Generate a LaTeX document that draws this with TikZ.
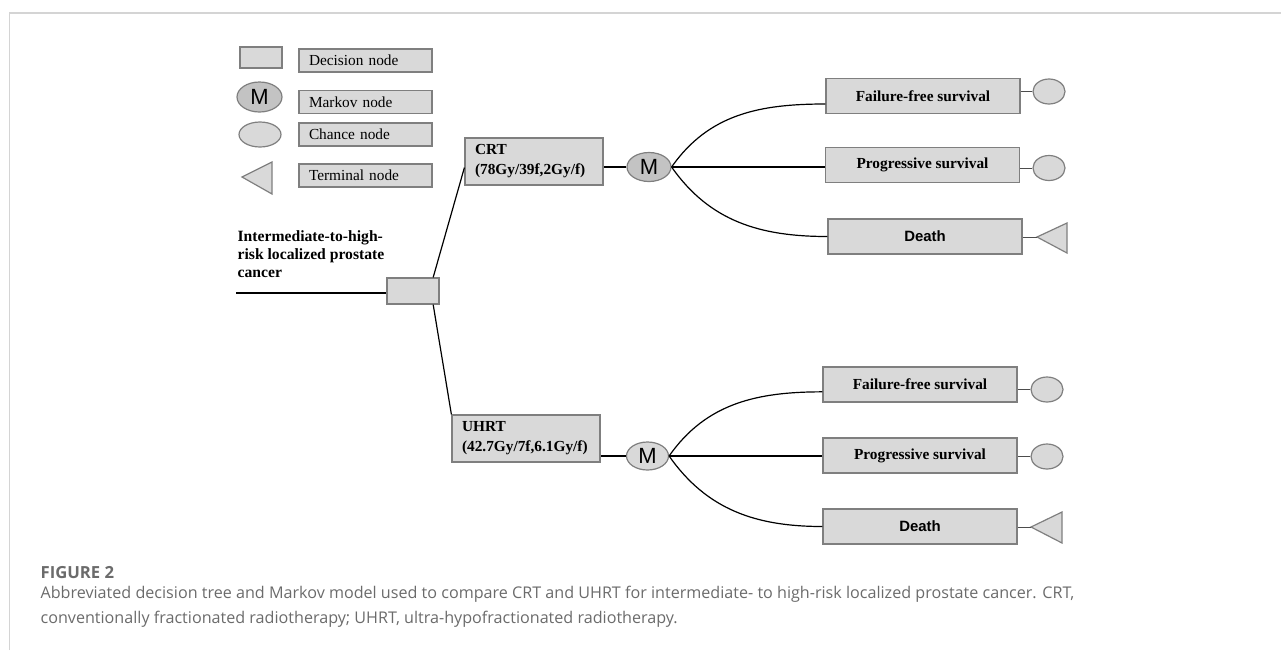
\documentclass[tikz,border=0pt]{standalone}
\usepackage{fontspec}
\setmainfont{Liberation Serif}
\newfontfamily\arialfont{Liberation Sans}
\newfontfamily\capfont{Open Sans}
\usetikzlibrary{arrows,shapes.geometric}
\definecolor{boxgray}{HTML}{D9D9D9}
\definecolor{markgray}{HTML}{C3C3C3}
\definecolor{edgegray}{HTML}{7F7F7F}
\definecolor{framegray}{HTML}{D4D4D4}
\definecolor{capgray}{HTML}{6B6B6B}
\tikzstyle{decbox}=[rectangle, draw=edgegray, fill=boxgray, line width=0.9pt, inner sep=0pt]
\tikzstyle{legbox}=[decbox, minimum width=99.75pt, minimum height=17.25pt, text width=84.75pt, inner xsep=7.5pt, align=left, font=\fontsize{11.5}{13}\selectfont]
\tikzstyle{armbox}=[decbox, minimum height=35.25pt, inner xsep=7.5pt, align=left, font=\fontsize{11.5}{15}\selectfont\bfseries]
\tikzstyle{outbox}=[decbox, minimum width=145.5pt, minimum height=26.25pt, font=\fontsize{11.5}{13}\selectfont\bfseries]
\tikzstyle{markov}=[ellipse, draw=edgegray, fill=boxgray, line width=0.9pt, inner sep=0pt, font=\arialfont\fontsize{16.5}{16.5}\selectfont]
\tikzstyle{chance}=[ellipse, draw=edgegray, fill=boxgray, line width=0.9pt, inner sep=0pt, minimum width=24pt, minimum height=18.75pt]
\tikzstyle{term}=[draw=edgegray, fill=boxgray, line width=0.9pt]
\tikzstyle{stub}=[draw=black!70, line width=0.75pt]
\newcommand{\decbox}{\node[decbox]}
\newcommand{\chance}{\node[chance]}

\begin{document}
\begin{tikzpicture}[x=0.75pt,y=-0.75pt,line width=0.9pt]
	\useasboundingbox (0,0) rectangle (1281,650);
	\draw[framegray] (9.5,650) -- (9.5,13) -- (1281,13);

	% legend
	\decbox (l1) at (261,57.5) [minimum width=31.5pt, minimum height=15.75pt] {};
	\node[markov, fill=markgray, minimum width=33.75pt, minimum height=22.5pt] (l2) at (259.5,97) {M};
	\chance (l3) at (260,134.5) [minimum width=31.5pt] {};
	\draw[term] (242,177) -- (272,162) -- (272,194) -- cycle;
	\node[legbox] (l5) at (365.5,60.5) {Decision node};
	\node[legbox] (l6) at (365.5,102) {Markov node};
	\node[legbox] (l7) at (365.5,134.5) {Chance node};
	\node[legbox] (l8) at (365.5,175.5) {Terminal node};

	% decision tree
	\coordinate (0) at (236,293);
	\decbox (1) at (413,291) [minimum width=39pt, minimum height=19.5pt] {};
	\node[anchor=west, align=left, inner sep=0pt, font=\fontsize{11.75}{13.5}\selectfont\bfseries] (lab) at (237,254) {Intermediate-to-high-\\risk localized prostate\\cancer};
	\node[armbox, minimum width=103.5pt, text width=88.5pt] (2) at (534,161.5) {CRT\\(78Gy/39f,2Gy/f)};
	\node[markov, fill=markgray, minimum width=33pt, minimum height=21.75pt] (3) at (649,167) {M};
	\node[outbox] (4) at (923,96) {Failure-free survival};
	\node[outbox] (5) at (922.5,165) {Progressive survival};
	\node[outbox, font=\arialfont\fontsize{11.2}{13}\selectfont\bfseries] (6) at (925,236.5) {Death};
	\chance (7) at (1049,91.5) {};
	\chance (8) at (1049,168) {};
	\coordinate (9) at (1037,237);
	\draw[term] (9) -- (1067,223) -- (1067,253) -- cycle;

	\node[armbox, minimum width=111pt, text width=96pt] (11) at (526,438.5) {UHRT\\(42.7Gy/7f,6.1Gy/f)};
	\node[markov, minimum width=31.5pt, minimum height=21pt] (12) at (647.5,456) {M};
	\node[outbox] (13) at (920,384.5) {Failure-free survival};
	\node[outbox] (14) at (920,455.5) {Progressive survival};
	\node[outbox, font=\arialfont\fontsize{11.2}{13}\selectfont\bfseries] (15) at (920,526.5) {Death};
	\chance (16) at (1047,389.5) {};
	\chance (17) at (1047,456.5) {};
	\coordinate (18) at (1031,527);
	\draw[term] (18) -- (1062,512) -- (1062,543) -- cycle;

	\path
		(0) edge (0 -| 1.west)
		(1.34) edge (2.185)
		(1.-34) edge (11.north west)
		(3.west) edge (3.west -| 2.east)
		(3.east) edge[out=55,in=180] ([yshift=-6pt]4.west)
		(3.east) edge (3.east -| 5.west)
		(3.east) edge[out=-55,in=180] (6.west)
		(7.west) edge[stub] (7.west -| 4.east)
		(8.west) edge[stub] (8.west -| 5.east)
		(9) edge[stub] (9 -| 6.east)
		(12.west) edge (12.west -| 11.east)
		(12.east) edge[out=55,in=180] ([yshift=-5.5pt]13.west)
		(12.east) edge (12.east -| 14.west)
		(12.east) edge[out=-55,in=180] (15.west)
		(16.west) edge[stub] (16.west -| 13.east)
		(17.west) edge[stub] (17.west -| 14.east)
		(18) edge[stub] (18 -| 15.east)
	;

	% caption
	\node[anchor=base west, inner sep=0pt, text=capgray, font=\capfont\fontsize{12.5}{14}\selectfont\bfseries] (c1) at (40,578) {FIGURE 2};
	\node[anchor=base west, inner sep=0pt, align=left, text=capgray, font=\capfont\fontsize{12.1}{18.5}\selectfont] (c2) at (40,623) {Abbreviated decision tree and Markov model used to compare CRT and UHRT for intermediate- to high-risk localized prostate cancer. CRT,\\conventionally fractionated radiotherapy; UHRT, ultra-hypofractionated radiotherapy.};
\end{tikzpicture}
\end{document}
